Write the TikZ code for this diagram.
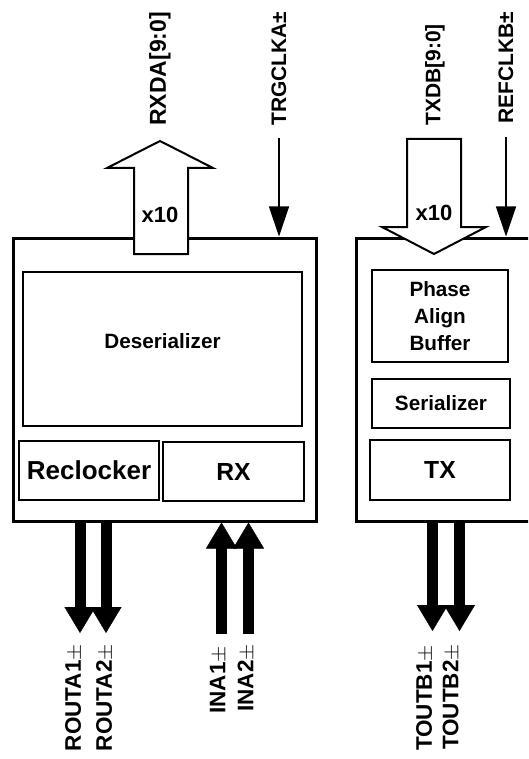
\documentclass[tikz,border=0pt]{standalone}
\usepackage{fontspec}
\setmainfont{Liberation Sans}
\usetikzlibrary{arrows.meta,positioning}

\tikzset{
  chip/.style={draw, line width=3pt, minimum width=303pt, minimum height=283pt, inner sep=0pt},
  blk/.style={draw, line width=2pt, inner sep=0pt, align=center, font=\bfseries\fontsize{20.7}{27}\selectfont},
  pin/.style={rotate=90, inner sep=0pt, font=\bfseries\fontsize{21}{21}\selectfont},
  pinb/.style={rotate=90, inner sep=0pt, anchor=east, font=\bfseries\fontsize{22.5}{22.5}\selectfont},
  clk/.style={line width=1.3pt, -{Triangle[width=20pt,length=30pt]}},
  lane/.style={line width=11pt, -{Triangle[width=31pt,length=26pt,line width=0.4pt]}},
  bus/.style={draw, line width=2pt, fill=white, line join=miter},
  mult/.style={inner sep=0pt, font=\bfseries\fontsize{22}{22}\selectfont}
}

\begin{document}
\begin{tikzpicture}[x=1pt, y=-1pt]
\useasboundingbox (0,0) rectangle (528,759);
\clip (0,0) rectangle (528,759);

\node[chip] (rxchip) at (164.5,379.5) {};
\node[chip] (txchip) at (507.5,379.5) {};

\node[blk, minimum width=279pt, minimum height=154pt, text depth=17pt] (deser) at (162.5,349) {Deserializer};
\node[blk, minimum width=140pt, minimum height=59pt, font=\bfseries\fontsize{26}{26}\selectfont] (recl) at (89,470.5) {Reclocker};
\node[blk, minimum width=141pt, minimum height=59pt, font=\bfseries\fontsize{24.7}{24.7}\selectfont] (rx) at (233.5,471.5) {RX};
\node[blk, minimum width=136pt, minimum height=92pt] (pab) at (440,316) {Phase\\Align\\Buffer};
\node[blk, minimum width=138pt, minimum height=49pt] (ser) at (441,403.5) {Serializer};
\node[blk, minimum width=140pt, minimum height=60pt, font=\bfseries\fontsize{24.7}{24.7}\selectfont] (tx) at (440,470) {TX};

\node[pin, anchor=west, font=\bfseries\fontsize{23}{23}\selectfont] (rxda) at (160,126) {RXDA[9:0]};
\node[pin, anchor=west] (trgclk) at (279,126) {TRGCLKA±};
\node[pin, anchor=west] (txdb) at (435,126) {TXDB[9:0]};
\node[pin, anchor=west] (refclk) at (506,124) {REFCLKB±};

\draw[bus] (134,254) -- (134,168) -- (107,168) -- (160,141) -- (213,168) -- (188,168) -- (188,254) -- cycle;
\node[mult] (rxmul) at (160,215) {x10};
\draw[bus] (407,139) -- (461,139) -- (461,227) -- (486,227) -- (434,254) -- (382,227) -- (407,227) -- cycle;
\node[mult] (txmul) at (434,213) {x10};

\draw[clk] ([yshift=-12pt]trgclk.west) -- (trgclk.west |- rxchip.north);
\draw[clk] ([yshift=-13pt]refclk.west) -- (refclk.west |- txchip.north);

\coordinate (ra1) at (80,633);
\coordinate (ra2) at (106,633);
\coordinate (ia1) at (221.5,634);
\coordinate (ia2) at (248.5,634);
\coordinate (tb1) at (432.5,631);
\coordinate (tb2) at (459.5,631);

\draw[lane] (ra1 |- rxchip.south) -- (ra1);
\draw[lane] (ra2 |- rxchip.south) -- (ra2);
\draw[lane] (ia1) -- (ia1 |- rxchip.south);
\draw[lane] (ia2) -- (ia2 |- rxchip.south);
\draw[lane] (tb1 |- txchip.south) -- (tb1);
\draw[lane] (tb2 |- txchip.south) -- (tb2);

\node[pinb] (routa1) at (74,644) {ROUTA1$\pm$};
\node[pinb] (routa2) at (105,644) {ROUTA2$\pm$};
\node[pinb] (ina1) at (218.5,646) {INA1$\pm$};
\node[pinb] (ina2) at (246.5,644) {INA2$\pm$};
\node[pinb] (toutb1) at (425,645) {TOUTB1$\pm$};
\node[pinb] (toutb2) at (451.5,644) {TOUTB2$\pm$};
\end{tikzpicture}
\end{document}
